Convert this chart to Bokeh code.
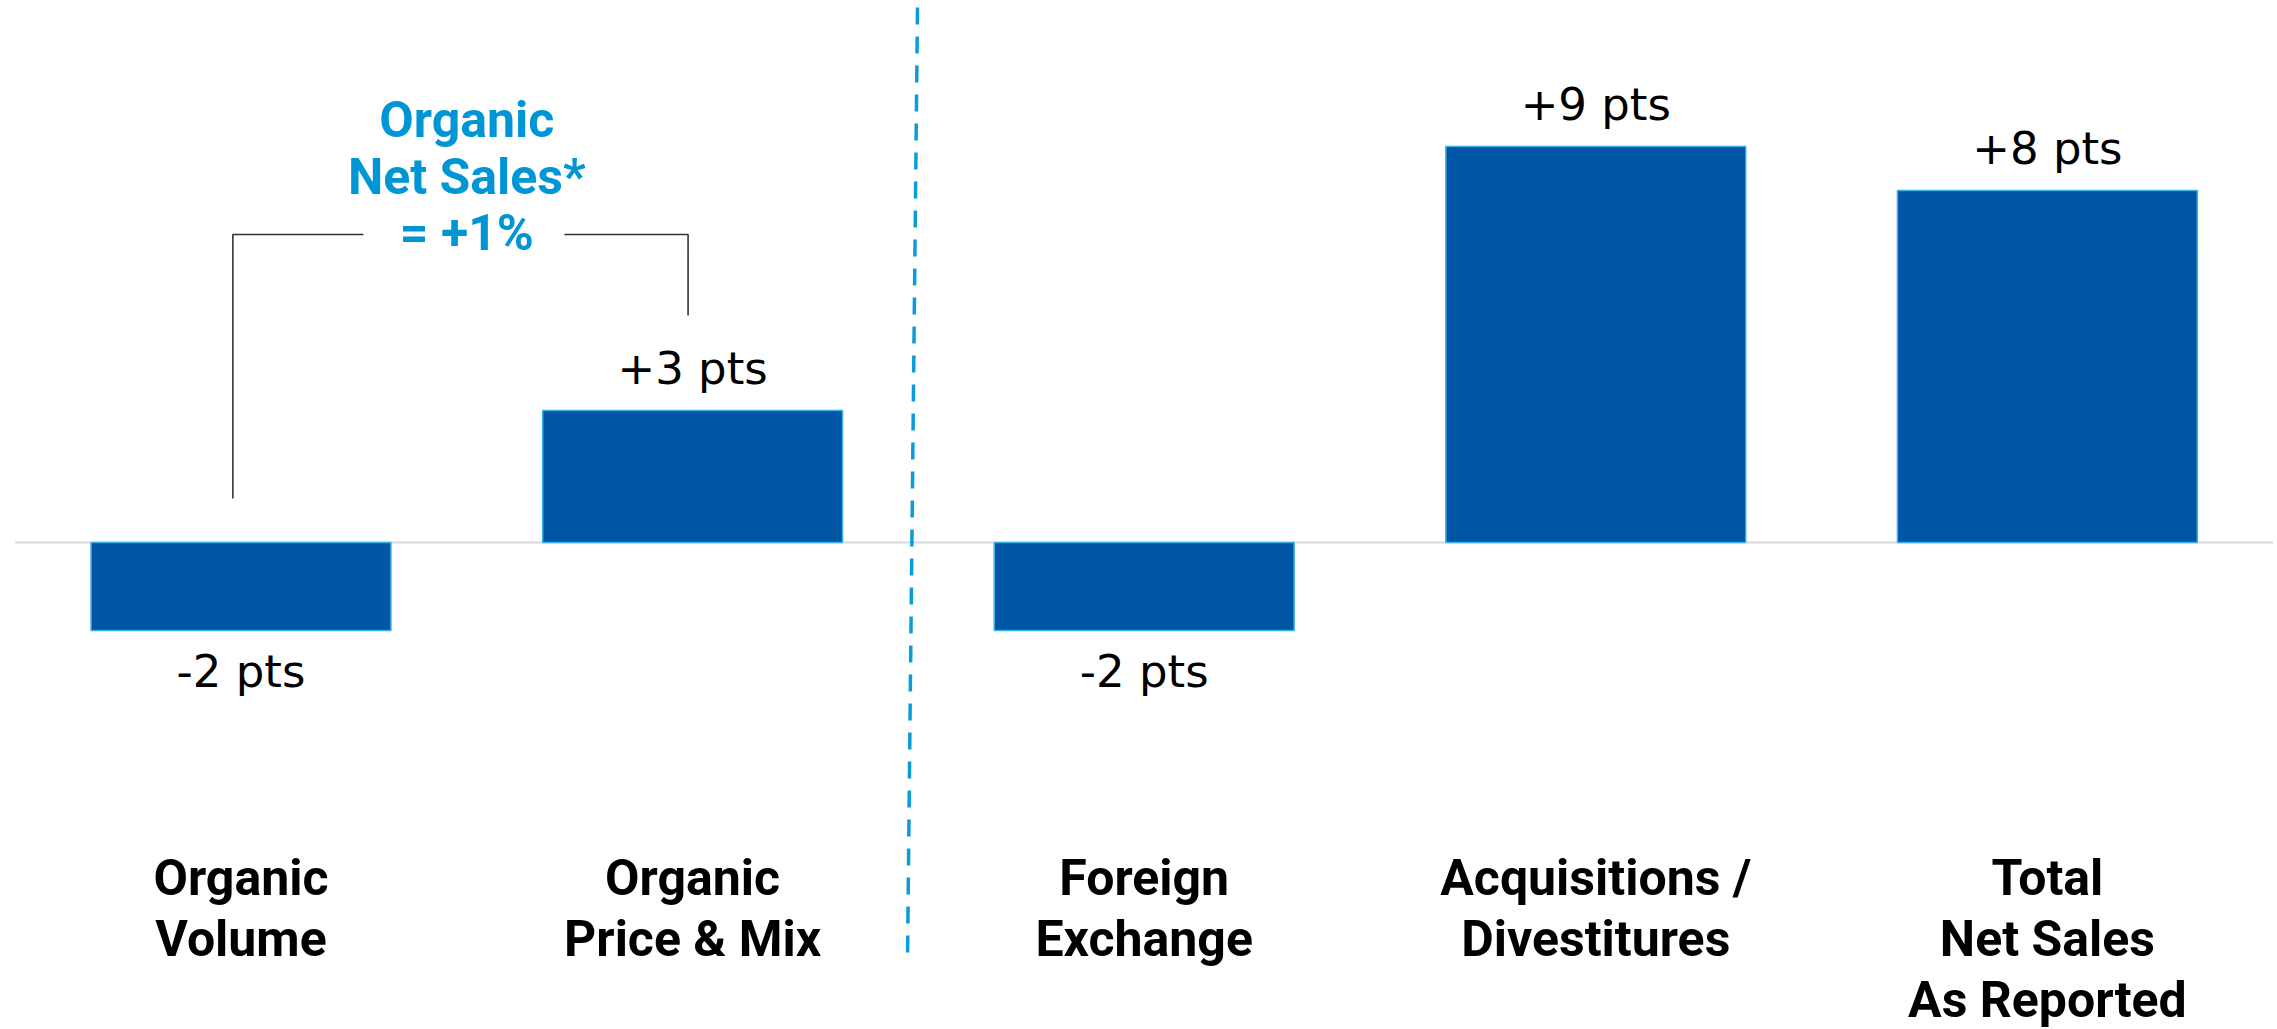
from bokeh.plotting import figure
from bokeh.models import Range1d, ColumnDataSource
from bokeh.core.properties import value
from bokeh.embed import file_html
from bokeh.resources import INLINE

# ---- data ----
categories = ["Organic\nVolume", "Organic\nPrice & Mix", "Foreign\nExchange",
              "Acquisitions /\nDivestitures", "Total\nNet Sales\nAs Reported"]
values = [-2, 3, -2, 9, 8]
value_labels = ["-2 pts", "+3 pts", "-2 pts", "+9 pts", "+8 pts"]
organic_note = ["Organic", "Net Sales*", "= +1%"]

# ---- layout (pixel geometry of the canvas) ----
W, H = 2277, 1029
PX_X = 451.6       # pixels per category step
PX_Y = 44.0        # pixels per point
X0 = -240.5 / PX_X
X1 = X0 + W / PX_X
Y1 = 542 / PX_Y
Y0 = Y1 - H / PX_Y

BAR = "#0055A5"
BLUE = "#0096D6"

p = figure(width=W, height=H, x_range=Range1d(X0, X1), y_range=Range1d(Y0, Y1),
           output_backend="svg", toolbar_location=None, min_border=0,
           x_axis_location=None, y_axis_location=None)
p.grid.visible = False
p.outline_line_color = None
p.background_fill_color = "white"
p.border_fill_color = "white"

xs = list(range(len(categories)))

# zero line
p.segment(x0=[-0.5], y0=[0], x1=[len(categories) - 0.5], y1=[0],
          line_color="#D9D9D9", line_width=2)

# bars
src = ColumnDataSource(dict(x=xs, top=values, lab=value_labels,
                            yoff=[-42 if v > 0 else 41 for v in values]))
p.vbar(x="x", top="top", bottom=0, width=0.664, source=src,
       fill_color=BAR, line_color="#3AAEE6", line_width=1.5)

# value labels
p.text(x="x", y="top", text="lab", y_offset="yoff", source=src,
       text_align="center", text_baseline="middle",
       text_font=value("DejaVu Sans"), text_font_size="45px", text_color="black")

# category labels
cx, cy, ct = [], [], []
for i, c in enumerate(categories):
    for j, line in enumerate(c.split("\n")):
        cx.append(i)
        cy.append(Y1 - (877 + 61 * j) / PX_Y)
        ct.append(line)
p.text(x=cx, y=cy, text=ct, text_align="center", text_baseline="middle",
       text_font=value("Roboto"), text_font_style="bold", text_font_size="50px",
       text_color="black")

# dashed divider between organic and other items
p.segment(x0=[1.498], y0=[Y1 - 7 / PX_Y], x1=[1.476], y1=[Y1 - 955 / PX_Y],
          line_color="#0A9BD9", line_width=3.5, line_dash="17 12")

# bracket for organic net sales
br_y = 7.0
p.multi_line(xs=[[-0.018, -0.018, 0.271], [0.716, 0.99, 0.99]],
             ys=[[values[0] + 3.0, br_y, br_y], [br_y, br_y, values[1] + 2.16]],
             line_color="#333333", line_width=1.6)

# organic annotation text
note_y = [Y1 - c / PX_Y for c in (119, 176, 232)]
p.text(x=[0.5] * 3, y=note_y, text=organic_note, text_align="center",
       text_baseline="middle", text_font=value("Roboto"),
       text_font_style="bold", text_font_size="50px", text_color=BLUE)

open("out.html", "w").write(file_html(p, INLINE))
